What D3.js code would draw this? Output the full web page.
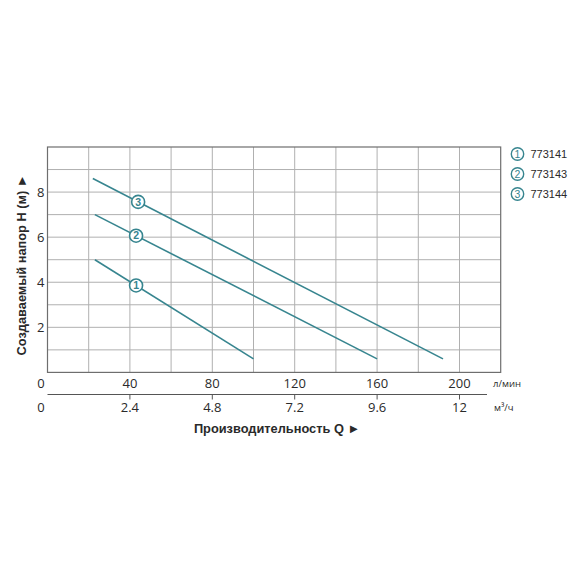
<!DOCTYPE html>
<html><head><meta charset="utf-8">
<script src="https://cdn.jsdelivr.net/npm/d3@7"></script>
<style>body{margin:0;background:#fff}</style>
</head><body>
<svg id="c" width="580" height="580"></svg>
<script>
const seriesNames = ["773141", "773143", "773144"];
const seriesIds = ["1", "2", "3"];
const seriesQ = [[23, 100], [23, 160], [22, 192]];      // л/мин
const seriesH = [[5.0, 0.6], [7.0, 0.6], [8.6, 0.6]];    // м
const markerQ = [43, 43, 44];
const xTicksLmin = [40, 80, 120, 160, 200];
const xTicksM3h = ["2.4", "4.8", "7.2", "9.6", "12"];
const yTicks = [2, 4, 6, 8];

const svg = d3.select("#c");
const x = d3.scaleLinear().domain([0, 220]).range([47.5, 500.7]);
const y = d3.scaleLinear().domain([0, 10]).range([372.4, 147]);
const teal = "#37858f";
const txt = "#2a2a2a";
const numFont = "'Open Sans', 'Noto Sans', sans-serif";
const boldFont = "'Liberation Sans', Arial, sans-serif";

// grid
const g = svg.append("g");
g.selectAll("line.v").data(d3.range(20, 220, 20)).join("line")
  .attr("x1", d => x(d)).attr("x2", d => x(d)).attr("y1", y(10)).attr("y2", y(0))
  .attr("stroke", "#b0b0b0").attr("stroke-width", 1);
g.selectAll("line.h").data(d3.range(1, 10)).join("line")
  .attr("y1", d => y(d)).attr("y2", d => y(d)).attr("x1", x(0)).attr("x2", x(220))
  .attr("stroke", "#b0b0b0").attr("stroke-width", 1);
g.append("rect").attr("x", x(0)).attr("y", y(10)).attr("width", x(220) - x(0)).attr("height", y(0) - y(10))
  .attr("fill", "none").attr("stroke", "#6e6e6e").attr("stroke-width", 1.2);

// y ticks
svg.selectAll("text.yt").data(yTicks).join("text")
  .attr("x", 44.5).attr("y", d => y(d)).attr("dy", "0.35em").attr("text-anchor", "end")
  .attr("font-family", numFont).attr("font-size", 13).attr("fill", txt).text(d => d);

// y title
svg.append("text").attr("transform", "translate(26,265) rotate(-90)")
  .attr("text-anchor", "middle").attr("font-family", boldFont).attr("font-weight", "bold")
  .attr("font-size", 12.8).attr("fill", txt).text("Создаваемый напор H (м) ►");

// x axis 1 (л/мин)
svg.append("text").attr("x", 41).attr("y", 383).attr("dy", "0.35em").attr("text-anchor", "middle")
  .attr("font-family", numFont).attr("font-size", 13).attr("fill", txt).text("0");
svg.selectAll("text.xt").data(xTicksLmin).join("text")
  .attr("x", d => x(d)).attr("y", 383).attr("dy", "0.35em").attr("text-anchor", "middle")
  .attr("font-family", numFont).attr("font-size", 13).attr("fill", txt).text(d => d);
svg.append("text").attr("x", 493).attr("y", 384).attr("dy", "0.35em")
  .attr("font-family", numFont).attr("font-size", 9.5).attr("fill", txt).text("л/мин");

// x axis 2 (м³/ч)
svg.append("line").attr("x1", x(0)).attr("x2", 487).attr("y1", 394.5).attr("y2", 394.5)
  .attr("stroke", "#555").attr("stroke-width", 1.2);
svg.selectAll("line.t2").data(xTicksLmin).join("line")
  .attr("x1", d => x(d)).attr("x2", d => x(d)).attr("y1", 394.5).attr("y2", 399.5)
  .attr("stroke", "#555").attr("stroke-width", 1);
svg.append("text").attr("x", 41).attr("y", 407).attr("dy", "0.35em").attr("text-anchor", "middle")
  .attr("font-family", numFont).attr("font-size", 13).attr("fill", txt).text("0");
svg.selectAll("text.xt2").data(xTicksM3h).join("text")
  .attr("x", (d, i) => x(xTicksLmin[i])).attr("y", 407).attr("dy", "0.35em").attr("text-anchor", "middle")
  .attr("font-family", numFont).attr("font-size", 13).attr("fill", txt).text(d => d);
svg.append("text").attr("x", 494).attr("y", 408).attr("dy", "0.35em")
  .attr("font-family", numFont).attr("font-size", 9.5).attr("fill", txt).text("м³/ч");

// x title
svg.append("text").attr("x", 277).attr("y", 429).attr("dy", "0.35em").attr("text-anchor", "middle")
  .attr("font-family", boldFont).attr("font-weight", "bold").attr("font-size", 12.8).attr("fill", txt)
  .text("Производительность Q ►");

// lines
const line = d3.line().x(d => x(d[0])).y(d => y(d[1]));
seriesQ.forEach((qs, i) => {
  const pts = qs.map((q, j) => [q, seriesH[i][j]]);
  svg.append("path").attr("d", line(pts)).attr("fill", "none")
    .attr("stroke", teal).attr("stroke-width", 1.6);
  const q0 = qs[0], q1 = qs[1], h0 = seriesH[i][0], h1 = seriesH[i][1];
  const mq = markerQ[i];
  const mh = h0 + (mq - q0) * (h1 - h0) / (q1 - q0);
  svg.append("circle").attr("cx", x(mq)).attr("cy", y(mh)).attr("r", 6.5)
    .attr("fill", "#fff").attr("stroke", teal).attr("stroke-width", 1.6);
  svg.append("text").attr("x", x(mq)).attr("y", y(mh)).attr("dy", "0.36em").attr("text-anchor", "middle")
    .attr("font-family", boldFont).attr("font-weight", "bold").attr("font-size", 10.5).attr("fill", teal).text(seriesIds[i]);
});

// legend
seriesNames.forEach((n, i) => {
  const cy = 154 + i * 20;
  svg.append("circle").attr("cx", 517.5).attr("cy", cy).attr("r", 6.2)
    .attr("fill", "#fff").attr("stroke", teal).attr("stroke-width", 1.4);
  svg.append("text").attr("x", 517.5).attr("y", cy).attr("dy", "0.36em").attr("text-anchor", "middle")
    .attr("font-family", boldFont).attr("font-size", 10.5).attr("fill", teal).text(seriesIds[i]);
  svg.append("text").attr("x", 530.5).attr("y", cy).attr("dy", "0.36em")
    .attr("font-family", boldFont).attr("font-size", 11).attr("fill", txt).text(n);
});
</script>
</body></html>
